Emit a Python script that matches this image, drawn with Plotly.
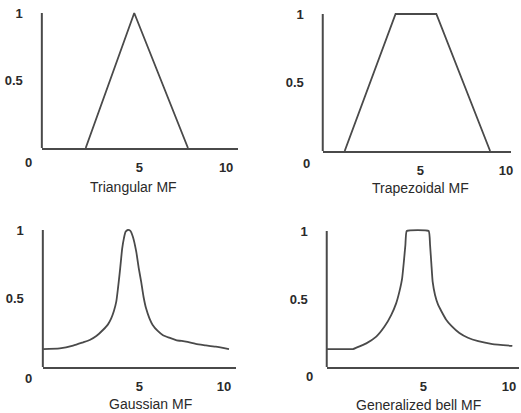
import plotly.graph_objects as go

# ---------------- data ----------------
tri_x = [1.9, 4.7, 7.8]
tri_y = [0, 1, 0]

trap_x = [0.58, 3.55, 5.93, 9.07]
trap_y = [0, 1, 1, 0]

gauss_x = [-0.69, 0.29, 1.08, 1.67, 2.06, 2.45, 2.84, 3.14, 3.33, 3.49, 3.63, 3.73,
           3.82, 3.90, 3.98, 4.08, 4.18, 4.31, 4.45, 4.61, 4.81, 4.96, 5.10, 5.24,
           5.39, 5.59, 5.78, 6.08, 6.37, 6.76, 7.16, 7.75, 8.33, 8.92, 9.51, 10.29]
gauss_y = [0.131, 0.136, 0.156, 0.180, 0.197, 0.226, 0.270, 0.311, 0.355, 0.409, 0.477, 0.574,
           0.672, 0.769, 0.866, 0.939, 0.988, 1.0, 0.995, 0.951, 0.842, 0.720, 0.623, 0.513,
           0.428, 0.355, 0.307, 0.263, 0.234, 0.214, 0.197, 0.185, 0.168, 0.158, 0.148, 0.131]

bell_x = [-0.66, 0.89, 1.09, 1.67, 2.25, 2.73, 3.12, 3.41, 3.60, 3.76, 3.86, 3.95, 4.03,
          5.31, 5.39, 5.47, 5.54, 5.68, 5.85, 6.05, 6.32, 6.65, 7.10, 7.60, 8.20, 9.03, 10.19]
bell_y = [0.132, 0.132, 0.142, 0.174, 0.223, 0.297, 0.382, 0.468, 0.554, 0.652, 0.774, 0.897, 1.0,
          1.0, 0.897, 0.750, 0.627, 0.529, 0.460, 0.410, 0.350, 0.300, 0.250, 0.215, 0.190, 0.169, 0.155]

x_tick_vals = [5, 10]
x_tick_text = ["5", "10"]
y_tick_vals = [0.5, 1]
y_tick_text = ["0.5", "1"]
origin_label = "0"
titles = ["Triangular MF", "Trapezoidal MF", "Gaussian MF", "Generalized bell MF"]

# ---------------- layout geometry (pixels) ----------------
W, H = 521, 413
# left, right, top (value 1), bottom (value 0) of each plot box; x-range of each panel
boxes = [(42, 239, 13, 148), (324, 513, 14, 151), (43, 237, 230, 367), (328, 521, 231, 367)]
xranges = [[-0.63, 10.69], [-0.70, 10.29], [-0.71, 10.71], [-0.64, 10.58]]
title_pos = [(134, 187), (422, 188), (151, 404), (420, 405)]
zero_pos = [(29, 162), (308, 163), (29, 378), (311, 376)]
YTOP = 1.06  # headroom so smoothed peaks are not clipped

series = [(tri_x, tri_y, "linear", 0), (trap_x, trap_y, "linear", 0),
          (gauss_x, gauss_y, "spline", 0.6), (bell_x, bell_y, "spline", 0.35)]

LINE = "#4a4a4a"
TXT = "#2a2a2a"
FONT = "Liberation Sans, Arial, sans-serif"

fig = go.Figure()
layout = dict(
    width=W, height=H, margin=dict(l=0, r=0, t=0, b=0),
    paper_bgcolor="white", plot_bgcolor="white", showlegend=False,
    annotations=[], shapes=[],
)

for i, ((xs, ys, shape, sm), (l, r, t, b), xr) in enumerate(zip(series, boxes, xranges)):
    n = "" if i == 0 else str(i + 1)
    top_px = b - (b - t) * YTOP
    line = dict(color=LINE, width=1.8, shape=shape)
    if shape == "spline":
        line["smoothing"] = sm
    fig.add_trace(go.Scatter(
        x=xs, y=ys, mode="lines", xaxis="x" + n, yaxis="y" + n,
        line=line, hoverinfo="skip",
    ))
    layout["xaxis" + n] = dict(
        domain=[l / W, r / W], range=xr, anchor="y" + n,
        showgrid=False, zeroline=False, showline=True, linecolor=LINE, linewidth=2,
        tickvals=x_tick_vals, ticktext=x_tick_text, ticks="", ticklabelstandoff=6,
        tickfont=dict(family=FONT, size=13, color=TXT, weight="bold"),
        fixedrange=True,
    )
    layout["yaxis" + n] = dict(
        domain=[1 - b / H, 1 - top_px / H], range=[0, YTOP], anchor="x" + n,
        showgrid=False, zeroline=False, showline=False,
        tickvals=y_tick_vals, ticktext=y_tick_text, ticks="", ticklabelstandoff=18,
        tickfont=dict(family=FONT, size=13, color=TXT, weight="bold"),
        fixedrange=True,
    )
    # vertical axis line from 0 to 1
    layout["shapes"].append(dict(
        type="line", xref=("x" + n + " domain") if n else "x domain", yref="y" + n,
        x0=0, x1=0, y0=0, y1=1, line=dict(color=LINE, width=2),
    ))
    tx, ty = title_pos[i]
    layout["annotations"].append(dict(
        text=titles[i], x=tx / W, y=1 - ty / H, xref="paper", yref="paper",
        showarrow=False, xanchor="center", yanchor="middle",
        font=dict(family=FONT, size=14, color=TXT),
    ))
    zx, zy = zero_pos[i]
    layout["annotations"].append(dict(
        text=origin_label, x=zx / W, y=1 - zy / H, xref="paper", yref="paper",
        showarrow=False, xanchor="center", yanchor="middle",
        font=dict(family=FONT, size=13, color=TXT, weight="bold"),
    ))

fig.update_layout(**layout)
fig.write_html(
    "out.html", config={"displayModeBar": False},
    post_script="document.body.style.margin='0';document.body.style.overflow='hidden';",
)
